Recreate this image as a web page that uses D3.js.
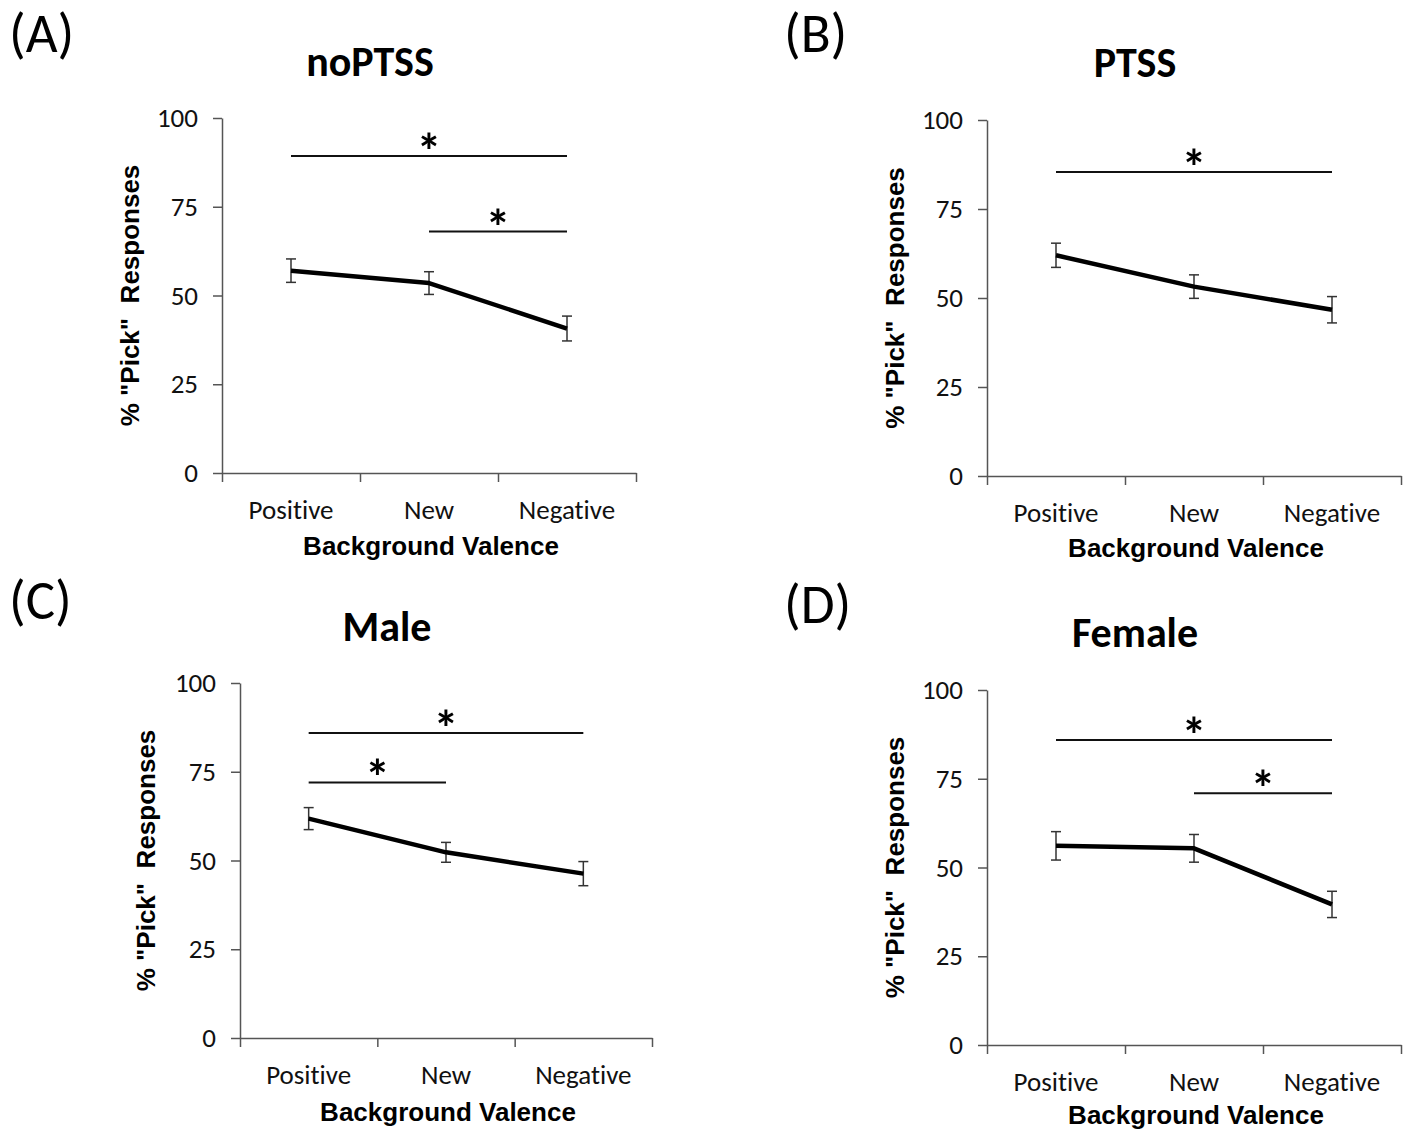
<!DOCTYPE html>
<html>
<head>
<meta charset="utf-8">
<script src="https://cdn.jsdelivr.net/npm/d3@7"></script>
<style>
  body { margin: 0; background: #fff; }
  svg { display: block; font-variant-ligatures: none; }
</style>
</head>
<body>
<div id="chart"></div>
<script>
// values
const categories = ["Positive", "New", "Negative"];
const yTicks = [0, 25, 50, 75, 100];

const noPTSSMeans = [57.0, 53.5, 40.7];
const noPTSSErr = [3.3, 3.2, 3.5];
const noPTSSSig = [[0, 2, 89.3], [1, 2, 68.0]];

const ptssMeans = [62.0, 53.2, 46.7];
const ptssErr = [3.4, 3.3, 3.7];
const ptssSig = [[0, 2, 85.4]];

const maleMeans = [61.8, 52.3, 46.3];
const maleErr = [3.1, 2.8, 3.4];
const maleSig = [[0, 2, 85.9], [0, 1, 72.0]];

const femaleMeans = [56.1, 55.4, 39.6];
const femaleErr = [4.0, 3.9, 3.7];
const femaleSig = [[0, 2, 85.9], [1, 2, 70.9]];

const W = 1409, H = 1129;
const calibri = "Carlito, Lato, sans-serif";
const arial = "'Liberation Sans', Arial, sans-serif";
const axisColor = "#555";

// panel layout
const panels = [
  { letter: "(A)", lx: 9, ly: 52, title: "noPTSS", tx: 370, ty: 76,
    x0: 222, x1: 636, top: 118, bot: 473, ytx: 130, xty: 82,
    means: noPTSSMeans, err: noPTSSErr, sig: noPTSSSig },
  { letter: "(B)", lx: 784, ly: 52, title: "PTSS", tx: 1135, ty: 77,
    x0: 987, x1: 1401, top: 120, bot: 476, ytx: 895, xty: 81,
    means: ptssMeans, err: ptssErr, sig: ptssSig },
  { letter: "(C)", lx: 9, ly: 619, title: "Male", tx: 387, ty: 641,
    x0: 240, x1: 652, top: 683, bot: 1038, ytx: 146, xty: 83,
    means: maleMeans, err: maleErr, sig: maleSig },
  { letter: "(D)", lx: 784, ly: 623, title: "Female", tx: 1135, ty: 647,
    x0: 987, x1: 1401, top: 690, bot: 1045, ytx: 895, xty: 79,
    means: femaleMeans, err: femaleErr, sig: femaleSig }
];

const svg = d3.select("#chart").append("svg")
  .attr("width", W)
  .attr("height", H);

svg.append("rect").attr("width", W).attr("height", H).attr("fill", "#fff");

panels.forEach(p => {
  const g = svg.append("g");

  const x = d3.scaleBand().domain(categories).range([p.x0, p.x1]);
  const xc = c => x(c) + x.bandwidth() / 2;
  const xEdge = d3.scaleLinear().domain([0, categories.length]).range([p.x0, p.x1]);
  const y = d3.scaleLinear().domain([0, 100]).range([p.bot, p.top]);

  // panel letter and title
  g.append("text")
    .attr("x", p.lx).attr("y", p.ly)
    .attr("font-family", calibri).attr("font-size", 55)
    .text(p.letter);

  g.append("text")
    .attr("x", p.tx).attr("y", p.ty)
    .attr("text-anchor", "middle")
    .attr("font-family", calibri).attr("font-weight", "bold")
    .attr("font-size", 42)
    .text(p.title);

  // y axis
  const yAxis = g.append("g")
    .attr("transform", `translate(${p.x0},0)`)
    .call(d3.axisLeft(y).tickValues(yTicks).tickSize(9).tickSizeOuter(0).tickPadding(15));
  yAxis.select(".domain").attr("stroke", axisColor).attr("stroke-width", 1.5);
  yAxis.selectAll(".tick line").attr("stroke", axisColor).attr("stroke-width", 1.5);
  yAxis.selectAll(".tick text")
    .attr("font-family", calibri).attr("font-size", 27).attr("fill", "#111");

  // x axis: ticks at the category edges
  const xAxis = g.append("g")
    .attr("transform", `translate(0,${p.bot})`)
    .call(d3.axisBottom(xEdge).tickValues(d3.range(categories.length + 1))
      .tickFormat("").tickSize(9).tickSizeOuter(0));
  xAxis.select(".domain").attr("stroke", axisColor).attr("stroke-width", 1.5);
  xAxis.selectAll(".tick line").attr("stroke", axisColor).attr("stroke-width", 1.5);

  g.append("g").selectAll("text")
    .data(categories)
    .join("text")
    .attr("x", d => xc(d))
    .attr("y", p.bot + 46)
    .attr("text-anchor", "middle")
    .attr("font-family", calibri).attr("font-size", 27).attr("fill", "#111")
    .text(d => d);

  // axis titles
  g.append("text")
    .attr("x", (p.x0 + p.x1) / 2 + 2)
    .attr("y", p.bot + p.xty)
    .attr("text-anchor", "middle")
    .attr("font-family", arial).attr("font-weight", "bold").attr("font-size", 26)
    .text("Background Valence");

  g.append("text")
    .attr("transform", `translate(${p.ytx},${(p.top + p.bot) / 2}) rotate(-90)`)
    .attr("dy", "0.35em")
    .attr("text-anchor", "middle")
    .attr("font-family", arial).attr("font-weight", "bold").attr("font-size", 26)
    .attr("xml:space", "preserve")
    .text('% "Pick"  Responses');

  // significance bars
  const sig = g.append("g");
  p.sig.forEach(([a, b, v]) => {
    const xa = xc(categories[a]), xb = xc(categories[b]);
    sig.append("line")
      .attr("x1", xa).attr("x2", xb)
      .attr("y1", y(v)).attr("y2", y(v))
      .attr("stroke", "#111").attr("stroke-width", 2);
    sig.append("text")
      .attr("x", (xa + xb) / 2).attr("y", y(v) + 13)
      .attr("text-anchor", "middle")
      .attr("font-family", calibri).attr("font-weight", "bold").attr("font-size", 50)
      .text("*");
  });

  // error bars
  const pts = categories.map((c, i) => ({ c, m: p.means[i], e: p.err[i] }));
  const eb = g.append("g").attr("stroke", "#333").attr("stroke-width", 1.5);
  eb.selectAll(".v").data(pts).join("line")
    .attr("x1", d => xc(d.c)).attr("x2", d => xc(d.c))
    .attr("y1", d => y(d.m - d.e)).attr("y2", d => y(d.m + d.e));
  eb.selectAll(".t").data(pts).join("line")
    .attr("x1", d => xc(d.c) - 5).attr("x2", d => xc(d.c) + 5)
    .attr("y1", d => y(d.m + d.e)).attr("y2", d => y(d.m + d.e));
  eb.selectAll(".b").data(pts).join("line")
    .attr("x1", d => xc(d.c) - 5).attr("x2", d => xc(d.c) + 5)
    .attr("y1", d => y(d.m - d.e)).attr("y2", d => y(d.m - d.e));

  // mean line
  const line = d3.line().x(d => xc(d.c)).y(d => y(d.m));
  g.append("path")
    .datum(pts)
    .attr("d", line)
    .attr("fill", "none")
    .attr("stroke", "#000")
    .attr("stroke-width", 4.5)
    .attr("stroke-linejoin", "round");
});
</script>
</body>
</html>
